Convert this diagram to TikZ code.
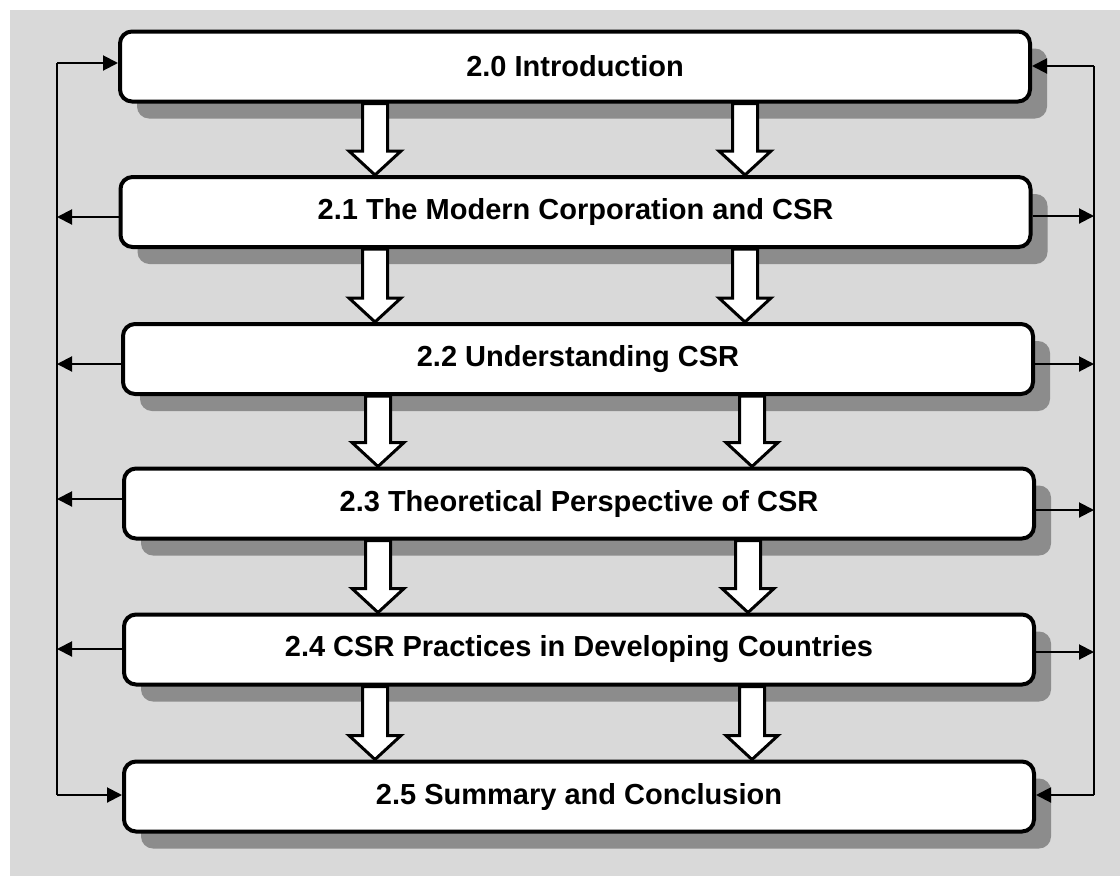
\documentclass[tikz,border=0pt]{standalone}
\usepackage{fontspec}
\setmainfont{Liberation Sans}
\usetikzlibrary{arrows.meta,shadows,calc}
\definecolor{panel}{HTML}{D9D9D9}
\definecolor{shade}{HTML}{8C8C8C}
% block arrow from the bottom of one section to the top of the next, at x = #3
\newcommand\flowdown[3]{%
  \draw[flow] let \p1=(#1.south), \p2=(#2.north) in
    (#3pt-12.5pt,\y1) -- (#3pt-12.5pt,\y2+24pt) -- (#3pt-26pt,\y2+24pt) --
    (#3pt,\y2) -- (#3pt+26pt,\y2+24pt) -- (#3pt+12.5pt,\y2+24pt) --
    (#3pt+12.5pt,\y1) -- cycle;}
\begin{document}
\begin{tikzpicture}[x=1pt,y=-1pt,
  section/.style={draw, line width=4pt, rounded corners=12pt, fill=white,
    minimum width=910pt, minimum height=70pt, inner sep=0pt,
    font=\fontsize{29}{34}\selectfont\bfseries,
    general shadow={fill=shade, shadow xshift=17pt, shadow yshift=-17pt}},
  link/.style={line width=2pt, -{Triangle[length=15pt,width=15pt]}},
  rail/.style={line width=2pt},
  flow/.style={line width=3pt, fill=white, line join=miter}]

\useasboundingbox (0,0) rectangle (1120,876);
\fill[panel] (10,10) rectangle (1120,876);

% chapter sections
\node[section] (b0) at (575,66.5)  {2.0 Introduction};
\node[section] (b1) at (575.5,212) {2.1 The Modern Corporation and CSR};
\node[section] (b2) at (578,359)   {2.2 Understanding CSR};
\node[section] (b3) at (579,503.5) {2.3 Theoretical Perspective of CSR};
\node[section] (b4) at (579,649.5) {2.4 CSR Practices in Developing Countries};
\node[section] (b5) at (579,796.5) {2.5 Summary and Conclusion};

% downward block arrows
\flowdown{b0}{b1}{375}\flowdown{b0}{b1}{745}
\flowdown{b1}{b2}{375}\flowdown{b1}{b2}{745}
\flowdown{b2}{b3}{378}\flowdown{b2}{b3}{752}
\flowdown{b3}{b4}{378}\flowdown{b3}{b4}{748}
\flowdown{b4}{b5}{375}\flowdown{b4}{b5}{752}

% side rails
\coordinate (L0) at (57,63);   \coordinate (R0) at (1094,66);
\coordinate (L1) at (57,217);  \coordinate (R1) at (1094,216);
\coordinate (L2) at (57,364);  \coordinate (R2) at (1094,364);
\coordinate (L3) at (57,499);  \coordinate (R3) at (1094,510);
\coordinate (L4) at (57,649);  \coordinate (R4) at (1094,652);
\coordinate (L5) at (57,795);  \coordinate (R5) at (1094,795);
\draw[rail] (L0) -- (L5);
\draw[rail] (R0) -- (R5);

% feedback links
\draw[link] (L0) -- (b0.west |- L0);
\draw[link] (R0) -- (b0.east |- R0);
\draw[link] (L5) -- (b5.west |- L5);
\draw[link] (R5) -- (b5.east |- R5);
\foreach \i in {1,2,3,4} {
  \draw[link] (b\i.west |- L\i) -- (L\i);
  \draw[link] (b\i.east |- R\i) -- (R\i);
}
\end{tikzpicture}
\end{document}
